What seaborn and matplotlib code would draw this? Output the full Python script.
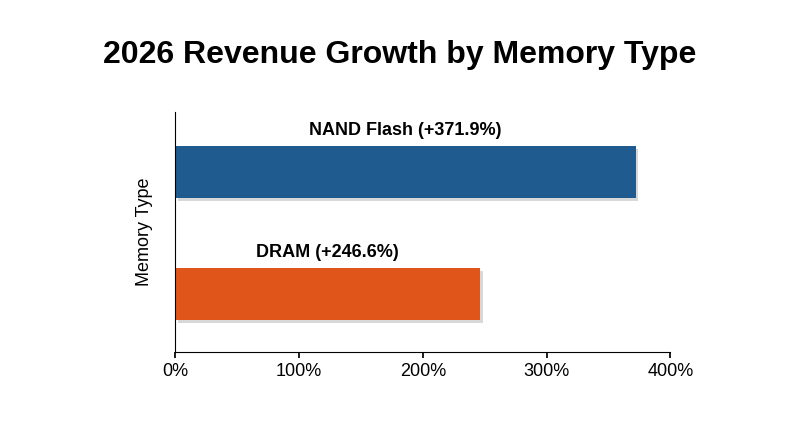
import matplotlib
matplotlib.use("Agg")
import matplotlib.pyplot as plt
import seaborn as sns
import pandas as pd
from matplotlib.patches import Rectangle

sns.set_theme(style="white")
plt.rcParams['font.family'] = ['Liberation Sans', 'DejaVu Sans']
plt.rcParams['text.color'] = 'black'

types = ["NAND Flash", "DRAM"]
growth = [371.9, 246.6]
colors = ["#1f5b8e", "#e0561a"]
xticks = [0, 100, 200, 300, 400]

df = pd.DataFrame({"type": types, "growth": growth})
fig = plt.figure(figsize=(8, 4.47), dpi=100)
ax = fig.add_axes([0.219, 0.212, 0.619, 0.537])

for i, v in enumerate(growth):
    ax.add_patch(Rectangle((2.0, i - 0.215 + 0.025), v, 0.43, facecolor="#aaaaaa",
                           alpha=0.45, linewidth=0, zorder=1, clip_on=False))

sns.barplot(data=df, y="type", x="growth", hue="type", palette=colors,
            orient="h", width=0.43, ax=ax, legend=False, saturation=1, zorder=2,
            linewidth=0, edgecolor="none")

for i, (t, v) in enumerate(zip(types, growth)):
    ax.text(v / 2, i - 0.27, f"{t} (+{v}%)", ha="center", va="bottom",
            fontsize=13, fontweight="bold", color="black")

ax.set_xlim(0, 400)
ax.set_ylim(1.48, -0.49)
ax.set_xticks(xticks)
ax.set_xticklabels([f"{x}%" for x in xticks], fontsize=13, color="black")
ax.set_yticks([])
ax.set_ylabel("Memory Type", fontsize=13, color="black", labelpad=16)
ax.set_xlabel("")
ax.tick_params(axis="x", bottom=True, length=4, color="black")
for s in ["top", "right"]:
    ax.spines[s].set_visible(False)
for s in ["left", "bottom"]:
    ax.spines[s].set_color("black")
    ax.spines[s].set_linewidth(0.8)

fig.suptitle("2026 Revenue Growth by Memory Type", fontsize=23, fontweight="bold",
             y=0.91, color="black")
fig.savefig("out.png", dpi=100)
